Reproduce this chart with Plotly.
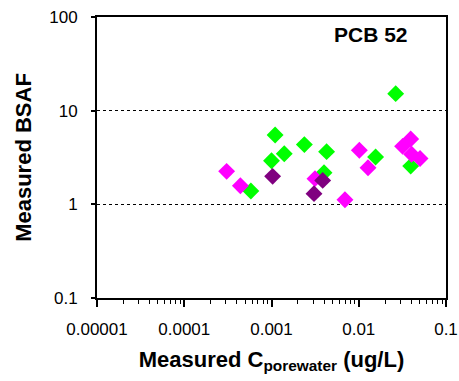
import plotly.graph_objects as go

# Data (Measured C_porewater [ug/L] vs Measured BSAF)
green_x = [0.0265, 0.0011, 0.00238, 0.0014, 0.00428, 0.0010, 0.0156, 0.0394, 0.0040, 0.00058]
green_y = [15.2, 5.5, 4.34, 3.47, 3.65, 2.92, 3.2, 2.56, 2.18, 1.39]

magenta_x = [0.000306, 0.00044, 0.00315, 0.00695, 0.01016, 0.01277, 0.0318, 0.0394, 0.0404, 0.0504]
magenta_y = [2.25, 1.58, 1.88, 1.12, 3.78, 2.46, 4.16, 4.99, 3.42, 3.08]

purple_x = [0.00103, 0.00307, 0.00386]
purple_y = [1.99, 1.30, 1.80]

x_tickvals = [0.00001, 0.0001, 0.001, 0.01, 0.1]
x_ticktext = ["0.00001", "0.0001", "0.001", "0.01", "0.1"]
y_tickvals = [0.1, 1, 10, 100]
y_ticktext = ["0.1", "1", "10", "100"]

FONT = "Liberation Sans, Arial, sans-serif"

fig = go.Figure()
for xs, ys, col in [(green_x, green_y, "#00FF00"),
                    (magenta_x, magenta_y, "#FF00FF"),
                    (purple_x, purple_y, "#800080")]:
    fig.add_trace(go.Scatter(
        x=xs, y=ys, mode="markers",
        marker=dict(symbol="diamond", size=13, color=col, line=dict(width=0)),
        showlegend=False, hoverinfo="skip"))

fig.update_layout(
    width=459, height=381,
    margin=dict(l=97, r=13, t=17, b=83),
    paper_bgcolor="white", plot_bgcolor="white",
    font=dict(family=FONT, color="black"),
    annotations=[dict(text="<b>PCB 52</b>", x=0.897, y=0.938, xref="paper", yref="paper",
                      xanchor="right", yanchor="middle", showarrow=False,
                      font=dict(size=21, family=FONT, color="black"))],
)

fig.update_xaxes(
    type="log", range=[-5, -1], automargin=False,
    tickvals=x_tickvals, ticktext=x_ticktext,
    tickfont=dict(size=17, family=FONT, color="black"),
    tickprefix="<b>", ticksuffix="</b>",
    ticks="outside", ticklen=7, tickwidth=1.5, tickcolor="black",
    minor=dict(ticks="outside", ticklen=4, tickwidth=1, tickcolor="black",
               dtick="D1", showgrid=False),
    showgrid=False, zeroline=False,
    showline=True, linecolor="black", linewidth=2, mirror=True,
    ticklabelstandoff=8,
    title=dict(text="<b>Measured C<sub>porewater</sub> (ug/L)</b>",
               font=dict(size=22, family=FONT, color="black"), standoff=13),
)
fig.update_yaxes(
    type="log", range=[-1, 2], automargin=False,
    tickvals=y_tickvals, ticktext=y_ticktext,
    tickfont=dict(size=17, family=FONT, color="black"),
    tickprefix="<b>", ticksuffix="</b>",
    ticks="outside", ticklen=4, tickwidth=1.5, tickcolor="black",
    showgrid=True, gridcolor="black", gridwidth=1, griddash="dot",
    zeroline=False,
    showline=True, linecolor="black", linewidth=2, mirror=True,
    ticklabelstandoff=10,
    title=dict(text="<b>Measured BSAF</b>",
               font=dict(size=22, family=FONT, color="black"), standoff=12),
)

fig.write_html("out.html", config={"displayModeBar": False},
               post_script="document.body.style.margin='0';")
